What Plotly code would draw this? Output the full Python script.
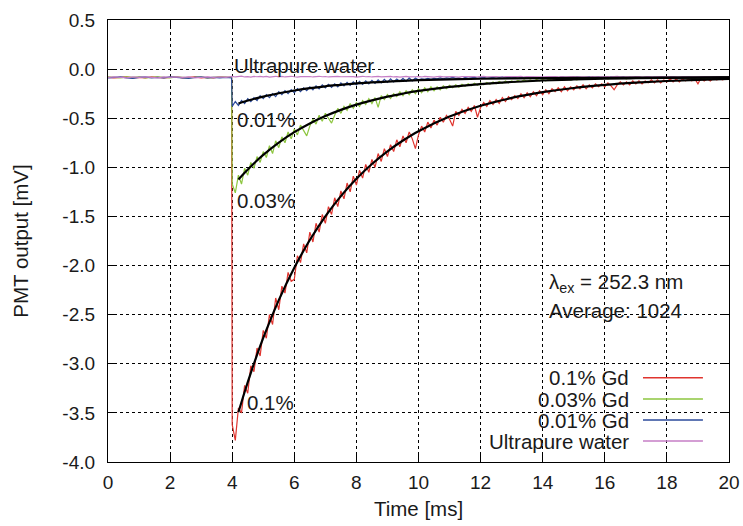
import plotly.graph_objects as go

# ---------------- data ----------------
# sampling times [ms]: coarse before the excitation pulse, 0.1 ms afterwards
T = [round(0.2 * i, 2) for i in range(20)] + [3.98] + [round(4 + 0.1 * i, 2) for i in range(161)]

RED_MV = [  # 0.1% Gd
    -0.085, -0.09, -0.085, -0.08, -0.09, -0.085, -0.09, -0.08, -0.085, -0.09,
    -0.085, -0.08, -0.09, -0.085, -0.08, -0.09, -0.085, -0.09, -0.08, -0.085, -0.085,
    -3.62, -3.78, -3.45, -3.50, -3.22, -3.30, -3.02, -3.08, -2.84, -2.92,
    -2.66, -2.74, -2.50, -2.60, -2.33, -2.45, -2.21, -2.28, -2.07, -2.16,
    -2.14, -1.90, -1.97, -1.78, -1.87, -1.66, -1.76, -1.57, -1.66, -1.48,
    -1.57, -1.40, -1.48, -1.31, -1.40, -1.24, -1.32, -1.16, -1.25, -1.09,
    -1.18, -1.03, -1.11, -0.97, -1.05, -0.92, -1.00, -0.86, -0.94, -0.81,
    -0.89, -0.77, -0.84, -0.72, -0.79, -0.68, -0.75, -0.64, -0.71, -0.81,
    -0.67, -0.58, -0.64, -0.54, -0.60, -0.52, -0.57, -0.49, -0.54, -0.47,
    -0.51, -0.58, -0.43, -0.47, -0.41, -0.45, -0.39, -0.43, -0.37, -0.49,
    -0.39, -0.34, -0.38, -0.32, -0.36, -0.31, -0.35, -0.29, -0.33, -0.28,
    -0.31, -0.27, -0.30, -0.25, -0.29, -0.24, -0.28, -0.23, -0.27, -0.22,
    -0.26, -0.21, -0.25, -0.20, -0.23, -0.19, -0.23, -0.18, -0.22, -0.18,
    -0.21, -0.17, -0.20, -0.16, -0.20, -0.16, -0.19, -0.15, -0.18, -0.15,
    -0.18, -0.14, -0.17, -0.21, -0.16, -0.13, -0.16, -0.13, -0.16, -0.12,
    -0.15, -0.12, -0.15, -0.12, -0.14, -0.11, -0.14, -0.11, -0.14, -0.11,
    -0.13, -0.10, -0.13, -0.10, -0.13, -0.10, -0.12, -0.10, -0.12, -0.10,
    -0.15, -0.09, -0.12, -0.10, -0.12, -0.09, -0.11, -0.10, -0.11, -0.09,
    -0.10,
]

GREEN_MV = [  # 0.03% Gd
    -0.08, -0.085, -0.09, -0.08, -0.085, -0.08, -0.09, -0.085, -0.08, -0.085,
    -0.09, -0.08, -0.085, -0.09, -0.085, -0.08, -0.09, -0.085, -0.08, -0.085, -0.085,
    -1.17, -1.26, -1.08, -1.17, -1.01, -1.08, -0.95, -1.01, -0.89, -0.95,
    -0.84, -0.90, -0.78, -0.86, -0.73, -0.80, -0.69, -0.75, -0.64, -0.71,
    -0.61, -0.67, -0.57, -0.63, -0.68, -0.58, -0.51, -0.56, -0.47, -0.53,
    -0.45, -0.50, -0.55, -0.47, -0.40, -0.45, -0.38, -0.42, -0.35, -0.40,
    -0.34, -0.38, -0.32, -0.36, -0.30, -0.35, -0.29, -0.39, -0.27, -0.31,
    -0.26, -0.30, -0.25, -0.28, -0.23, -0.27, -0.22, -0.26, -0.21, -0.25,
    -0.20, -0.24, -0.19, -0.23, -0.18, -0.22, -0.18, -0.21, -0.17, -0.20,
    -0.165, -0.19, -0.16, -0.185, -0.155, -0.175, -0.15, -0.17, -0.145, -0.165,
    -0.14, -0.16, -0.135, -0.155, -0.13, -0.15, -0.125, -0.145, -0.12, -0.14,
    -0.12, -0.135, -0.115, -0.13, -0.11, -0.125, -0.11, -0.125, -0.105, -0.12,
    -0.105, -0.12, -0.10, -0.115, -0.10, -0.115, -0.095, -0.11, -0.10, -0.11,
    -0.10, -0.11, -0.095, -0.10, -0.09, -0.10, -0.095, -0.10, -0.09, -0.10,
    -0.09, -0.10, -0.09, -0.095, -0.085, -0.095, -0.09, -0.10, -0.085, -0.09,
    -0.095, -0.085, -0.09, -0.095, -0.09, -0.085, -0.095, -0.09, -0.085, -0.09,
    -0.09, -0.095, -0.085, -0.09, -0.095, -0.085, -0.09, -0.085, -0.095, -0.09,
    -0.085, -0.09, -0.095, -0.085, -0.09, -0.085, -0.09, -0.095, -0.085, -0.09,
    -0.09,
]

BLUE_MV = [  # 0.01% Gd
    -0.09, -0.085, -0.08, -0.09, -0.095, -0.085, -0.08, -0.09, -0.085, -0.09,
    -0.08, -0.085, -0.09, -0.095, -0.085, -0.08, -0.09, -0.085, -0.09, -0.085, -0.09,
    -0.38, -0.33, -0.37, -0.32, -0.35, -0.30, -0.33, -0.29, -0.32, -0.27,
    -0.30, -0.26, -0.29, -0.25, -0.28, -0.23, -0.26, -0.22, -0.25, -0.21,
    -0.24, -0.20, -0.23, -0.19, -0.22, -0.18, -0.21, -0.17, -0.20, -0.16,
    -0.19, -0.155, -0.185, -0.15, -0.18, -0.14, -0.17, -0.135, -0.165, -0.13,
    -0.16, -0.125, -0.155, -0.12, -0.15, -0.115, -0.145, -0.11, -0.14, -0.105,
    -0.135, -0.10, -0.13, -0.10, -0.125, -0.095, -0.125, -0.09, -0.12, -0.09,
    -0.11, -0.10, -0.105, -0.095, -0.105, -0.095, -0.10, -0.09, -0.10, -0.09,
    -0.095, -0.085, -0.095, -0.09, -0.10, -0.085, -0.095, -0.09, -0.085, -0.095,
    -0.09, -0.085, -0.095, -0.09, -0.085, -0.095, -0.09, -0.08, -0.09, -0.085,
    -0.09, -0.085, -0.095, -0.085, -0.09, -0.08, -0.09, -0.085, -0.09, -0.085,
    -0.085, -0.09, -0.08, -0.09, -0.085, -0.09, -0.08, -0.085, -0.09, -0.085,
    -0.09, -0.08, -0.085, -0.09, -0.085, -0.08, -0.09, -0.085, -0.08, -0.09,
    -0.085, -0.09, -0.08, -0.085, -0.09, -0.085, -0.08, -0.09, -0.085, -0.09,
    -0.08, -0.085, -0.09, -0.085, -0.08, -0.09, -0.085, -0.09, -0.08, -0.085,
    -0.09, -0.085, -0.08, -0.09, -0.085, -0.09, -0.085, -0.08, -0.09, -0.085,
    -0.085, -0.09, -0.08, -0.085, -0.09, -0.085, -0.09, -0.08, -0.085, -0.09,
    -0.085,
]

WATER_MV = [  # ultrapure water
    -0.085, -0.08, -0.085, -0.09, -0.08, -0.085, -0.08, -0.085, -0.09, -0.08,
    -0.085, -0.08, -0.085, -0.08, -0.09, -0.085, -0.08, -0.085, -0.08, -0.085, -0.08,
    -0.075, -0.08, -0.078, -0.072, -0.08, -0.076, -0.082, -0.075, -0.078, -0.074,
    -0.079, -0.075, -0.081, -0.076, -0.073, -0.079, -0.075, -0.08, -0.077, -0.073,
    -0.078, -0.082, -0.076, -0.074, -0.079, -0.075, -0.08, -0.077, -0.073, -0.078,
    -0.075, -0.08, -0.077, -0.081, -0.074, -0.078, -0.076, -0.08, -0.074, -0.077,
    -0.081, -0.076, -0.073, -0.078, -0.075, -0.08, -0.077, -0.074, -0.079, -0.076,
    -0.078, -0.074, -0.08, -0.076, -0.082, -0.077, -0.074, -0.079, -0.075, -0.078,
    -0.076, -0.08, -0.074, -0.078, -0.075, -0.081, -0.077, -0.074, -0.079, -0.076,
    -0.079, -0.075, -0.078, -0.082, -0.076, -0.074, -0.079, -0.077, -0.075, -0.08,
    -0.077, -0.074, -0.079, -0.076, -0.08, -0.075, -0.078, -0.081, -0.076, -0.078,
    -0.075, -0.079, -0.077, -0.074, -0.08, -0.076, -0.078, -0.075, -0.081, -0.077,
    -0.079, -0.076, -0.074, -0.079, -0.077, -0.08, -0.075, -0.078, -0.076, -0.08,
    -0.076, -0.08, -0.078, -0.075, -0.079, -0.082, -0.076, -0.079, -0.077, -0.074,
    -0.078, -0.075, -0.08, -0.077, -0.074, -0.079, -0.076, -0.08, -0.078, -0.075,
    -0.079, -0.076, -0.081, -0.077, -0.075, -0.079, -0.077, -0.08, -0.076, -0.079,
    -0.077, -0.08, -0.076, -0.079, -0.082, -0.077, -0.079, -0.076, -0.08, -0.078,
    -0.08, -0.077, -0.079, -0.081, -0.078, -0.08, -0.077, -0.08, -0.079, -0.081,
    -0.08,
]

# black fitted curves
FIT_T = [4.2, 4.4, 4.6, 4.8, 5.0, 5.5, 6.0, 6.5, 7.0, 7.5, 8.0, 8.5, 9.0, 9.5, 10.0,
         11.0, 12.0, 13.0, 14.0, 15.0, 16.0, 17.0, 18.0, 19.0, 20.0]
FIT_RED = [-3.494, -3.287, -3.092, -2.909, -2.737, -2.352, -2.022, -1.740, -1.499, -1.293,
           -1.117, -0.966, -0.837, -0.727, -0.632, -0.483, -0.373, -0.293, -0.235, -0.192,
           -0.161, -0.138, -0.121, -0.109, -0.100]
FIT_GREEN = [-1.125, -1.056, -0.991, -0.930, -0.873, -0.748, -0.642, -0.553, -0.478, -0.415,
             -0.362, -0.318, -0.280, -0.249, -0.222, -0.181, -0.152, -0.131, -0.116, -0.106,
             -0.098, -0.093, -0.089, -0.086, -0.084]
FIT_BLUE = [-0.350, -0.330, -0.312, -0.295, -0.280, -0.246, -0.218, -0.194, -0.175, -0.160,
            -0.146, -0.136, -0.127, -0.119, -0.113, -0.104, -0.098, -0.094, -0.091, -0.089,
            -0.088, -0.087, -0.086, -0.086, -0.085]

SERIES_NAMES = ["0.1% Gd", "0.03% Gd", "0.01% Gd", "Ultrapure water"]
SERIES_COLORS = ["#e0342e", "#8dc63f", "#2b4a9b", "#c67ec6"]

X_TICKS = [0, 2, 4, 6, 8, 10, 12, 14, 16, 18, 20]
X_TICK_LABELS = ["0", "2", "4", "6", "8", "10", "12", "14", "16", "18", "20"]
Y_TICKS = [0.5, 0.0, -0.5, -1.0, -1.5, -2.0, -2.5, -3.0, -3.5, -4.0]
Y_TICK_LABELS = ["0.5", "0.0", "-0.5", "-1.0", "-1.5", "-2.0", "-2.5", "-3.0", "-3.5", "-4.0"]

for arr in (RED_MV, GREEN_MV, BLUE_MV, WATER_MV):
    assert len(arr) == len(T), (len(arr), len(T))

# ---------------- figure ----------------
FONT = "Liberation Sans, Arial, Helvetica, sans-serif"
TXT = "#1a1a1a"
fig = go.Figure()

for name, vals, col in zip(SERIES_NAMES, [RED_MV, GREEN_MV, BLUE_MV, WATER_MV], SERIES_COLORS):
    fig.add_trace(go.Scatter(x=T, y=vals, mode="lines", name=name,
                             line=dict(color=col, width=1.2), showlegend=False))

for fit in (FIT_RED, FIT_GREEN, FIT_BLUE):
    fig.add_trace(go.Scatter(x=FIT_T, y=fit, mode="lines",
                             line=dict(color="black", width=2.2, shape="spline"),
                             showlegend=False, hoverinfo="skip"))

axis_common = dict(
    ticks="inside", ticklen=8, tickcolor="black", tickwidth=1,
    showline=True, linecolor="black", linewidth=1.2, mirror="ticks",
    showgrid=True, gridcolor="black", gridwidth=1, griddash="dot",
    zeroline=False, automargin=False, tickfont=dict(size=19, family=FONT, color=TXT),
)

fig.update_xaxes(range=[0, 20], tickmode="array", tickvals=X_TICKS, ticktext=X_TICK_LABELS,
                 ticklabelstandoff=3, ticklabeloverflow="allow",
                 title=dict(text="Time [ms]", font=dict(size=20.5, family=FONT, color=TXT), standoff=9),
                 **axis_common)
fig.update_yaxes(range=[-4, 0.5], tickmode="array", tickvals=Y_TICKS, ticktext=Y_TICK_LABELS,
                 ticklabelstandoff=8, ticklabeloverflow="allow",
                 title=dict(text="PMT output [mV]", font=dict(size=20.5, family=FONT, color=TXT), standoff=28),
                 **axis_common)

# curve labels
ann_font = dict(size=20.5, family=FONT, color=TXT)
labels = [
    ("Ultrapure water", 3.98, 0.04),
    ("0.01%", 4.08, -0.515),
    ("0.03%", 4.08, -1.34),
    ("0.1%", 4.4, -3.39),
    ("λ<sub>ex</sub> = 252.3 nm", 14.15, -2.18),
    ("Average: 1024", 14.15, -2.46),
]
for txt, x, y in labels:
    fig.add_annotation(x=x, y=y, xref="x", yref="y", text=txt, showarrow=False,
                       xanchor="left", yanchor="middle", font=ann_font)

# legend (text on the left, line sample on the right)
shapes = [dict(type="rect", xref="paper", yref="paper", x0=0.527, x1=1.0, y0=0.0, y1=0.214,
               fillcolor="white", line=dict(width=0), layer="between")]
leg_y = [0.1907, 0.1425, 0.095, 0.0475]
for name, col, yy in zip(SERIES_NAMES, SERIES_COLORS, leg_y):
    fig.add_annotation(x=0.840, y=yy, xref="paper", yref="paper", text=name, showarrow=False,
                       xanchor="right", yanchor="middle", font=ann_font, borderpad=0)
    shapes.append(dict(type="line", xref="paper", yref="paper", x0=0.8615, x1=0.958, y0=yy, y1=yy,
                       line=dict(color=col, width=1.5)))

fig.update_layout(
    width=743, height=526,
    margin=dict(l=108, r=14, t=20, b=64, autoexpand=False),
    paper_bgcolor="white", plot_bgcolor="white",
    font=dict(family=FONT, size=19, color=TXT),
    showlegend=False,
    hovermode=False,
    shapes=shapes,
)

# remove the default 8 px page margin so the figure fills the window exactly
fig.write_html(
    "out.html",
    config={"displayModeBar": False},
    post_script="document.body.style.margin='0';document.documentElement.style.overflow='hidden';",
)
